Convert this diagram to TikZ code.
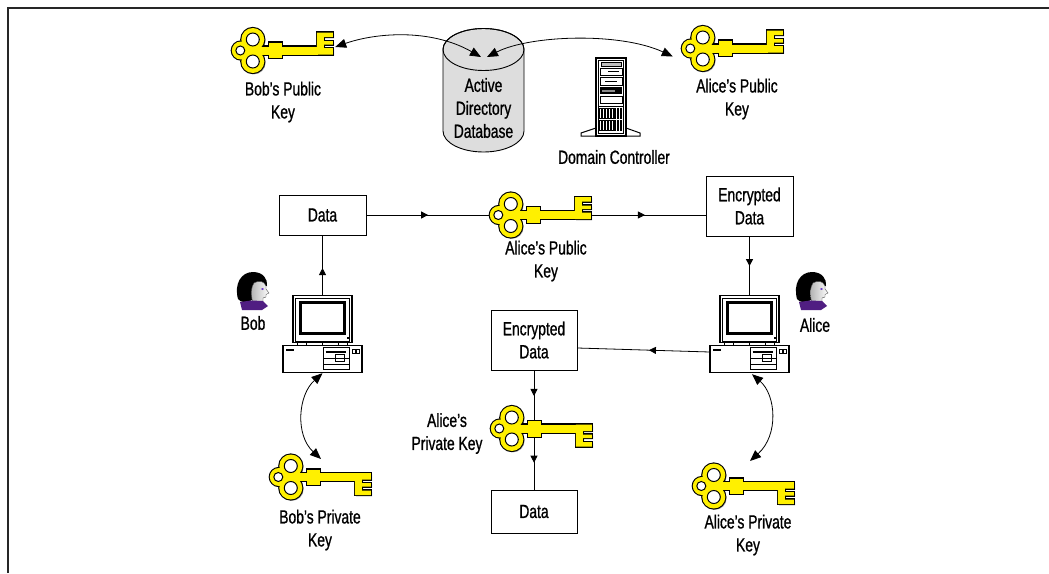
\documentclass[tikz,border=0pt]{standalone}
\usepackage{fontspec}
\setmainfont{Liberation Sans}[FakeStretch=0.73, FakeBold=0.9]
\usetikzlibrary{arrows.meta,decorations.markings}

\definecolor{keyyellow}{RGB}{255,240,0}
\definecolor{dbgray}{RGB}{221,221,221}
\definecolor{collarpurple}{RGB}{80,30,130}
\definecolor{eyeviolet}{RGB}{110,60,200}

% one pass over the solid parts of a key (bow, collar, shaft, bit)
\newcommand\keypass[1]{%
  \path[#1] (21,-11) circle[radius=11.5];
  \path[#1] (21,11) circle[radius=11.5];
  \path[#1] (9,0) circle[radius=9];
  \path[#1] (17,0) circle[radius=8];
  \path[#1] (37,-8) rectangle (50,7.5);
  \path[#1] (22,-4) rectangle (86,4);
  \path[#1] (85,4) -- (85,-18) -- (101,-18) -- (101,-13.5) -- (92,-13.5) -- (92,-9.5)
    -- (101,-9.5) -- (101,-6) -- (92,-6) -- (92,-2.5) -- (101,-2.5) -- (101,4) -- cycle;
}
% shadow, outline, yellow body, then the three holes of the bow
\newcommand\keydraw[1]{%
  \keypass{fill=black!35, shift={(1.3,#1)}}%
  \keypass{draw=black, line width=2.2pt}%
  \keypass{fill=keyyellow}%
  \filldraw[fill=white, draw=black, line width=1pt]
    (21,-11) circle[radius=6.5] (21,11) circle[radius=6.5] (8.5,0) circle[radius=4.5];
}

\tikzset{
  yellowkeyup/.pic={\keydraw{1.3}},
  yellowkeydown/.pic={\begin{scope}[yscale=-1]\keydraw{-1.3}\end{scope}},
  pcunit/.pic={
    % monitor
    \draw[fill=white, line width=1.2pt] (-29.5,0) rectangle (29.5,47);
    \draw[line width=0.5pt] (-27,2) rectangle (27,45);
    \draw[line width=3pt] (-22,6.5) rectangle (22,37.5);
    \fill (24,41.5) rectangle (26.5,43.5);
    \draw[fill=white, line width=0.8pt] (-25,47) rectangle (25,50);
    \draw[line width=0.6pt] (-16,47) -- (-16,50) (0,47) -- (0,50) (16,47) -- (16,50);
    % system unit
    \draw[fill=white, line width=1.2pt] (-39.5,50) rectangle (39.5,77);
    \fill (-36.5,53) rectangle (-28.5,55.5);
    \draw[line width=0.8pt] (0.5,52) rectangle (26.5,74);
    \draw[line width=1.6pt] (3,56) -- (23,56);
    \draw[line width=0.6pt] (0.5,62) -- (26.5,62) (0.5,68) -- (26.5,68);
    \draw[line width=0.6pt] (13,58.5) rectangle (22,65.5);
    \draw[line width=0.6pt] (29.5,53) rectangle (32.5,57) (33.5,53) rectangle (36.5,57);
  },
  serverunit/.pic={
    \draw[fill=white, line width=1pt] (-15,70) -- (-30,75) -- (-30,78) -- (29,78) -- (29,75) -- (15,70) -- cycle;
    \draw[fill=white, line width=1.2pt] (-15,0) rectangle (15,78);
    \draw[line width=0.5pt] (-12.5,2.5) rectangle (12.5,75.5);
    \draw[line width=0.5pt, fill=black!25] (-10,4) rectangle (10,8);
    \draw[line width=0.6pt] (-11,10) rectangle (11,17.5);
    \draw[line width=1.4pt] (-3,13.7) -- (8,13.7);
    \draw[line width=0.6pt] (-11,19.5) rectangle (11,27);
    \draw[line width=1.4pt] (-6,23.2) -- (6,23.2);
    \fill[black] (-11,29) rectangle (11,36);
    \fill[black!45] (-9,31.5) rectangle (4,33.5);
    \draw[line width=0.6pt] (-11,38) rectangle (11,45);
    \draw[line width=0.6pt] (-12.5,48) -- (12.5,48);
    \foreach \i in {0,...,7} {
      \draw[line width=0.5pt] (-11.5+2.9*\i,50.5) rectangle (-9.8+2.9*\i,60.5)
                              (-11.5+2.9*\i,62.5) rectangle (-9.8+2.9*\i,72.5);
    }
  },
  headicon/.pic={
    \fill[black] (-15,9) .. controls (-19,-6) and (-12,-18) .. (0,-18)
      .. controls (10,-18) and (15,-11) .. (14,-4) -- (12,-4) -- (2,-6) -- (-1,10)
      .. controls (-6,13) and (-12,13) .. cycle;
    \shadedraw[left color=black!30, right color=white, draw=black!70, line width=0.4pt]
      (1,-7) .. controls (6,-10) and (11,-9) .. (13,-4) -- (13,-1) -- (16,3) -- (13,4.5)
      -- (13,7) -- (10,8) -- (10,12) -- (0,12) -- (-1,9) .. controls (-2,4) and (-2,-3) .. cycle;
    \fill[eyeviolet] (9.5,-1) ellipse[x radius=1.6, y radius=1];
    \fill[collarpurple] (-13,12) -- (-2,10.5) -- (10,11) -- (15,16) -- (9,20) -- (-11,20) -- cycle;
  },
}

\begin{document}
\begin{tikzpicture}[x=1pt, y=-1pt,
  lbl/.style={font=\fontsize{19}{23}\selectfont, align=center, inner sep=0pt},
  textbox/.style={lbl, draw=black, line width=0.9pt, fill=white, minimum width=87pt},
  keyspot/.style={inner sep=0pt, minimum width=101pt, minimum height=45pt},
  pcspot/.style={inner sep=0pt, minimum width=79pt, minimum height=77pt},
  link/.style={draw=black, line width=0.8pt},
  twoway/.style={link, {Triangle[length=11pt,width=9pt]}-{Triangle[length=11pt,width=9pt]}},
  midarrow/.style={postaction={decorate}, decoration={markings,
    mark=at position #1 with {\arrow{Triangle[length=7pt,width=7pt]}}}},
]
\useasboundingbox (0,0) rectangle (1049,573);

% open frame: top and left edges
\draw[line width=2pt, black!85] (7.8,573) -- (7.8,7.8) -- (1049,7.8);

% directory database cylinder
\path[fill=dbgray, draw=black, line width=0.9pt]
  (443,49.5) -- (443,131) arc[start angle=180, end angle=0, x radius=40.5, y radius=21]
  -- (524,49.5) arc[start angle=0, end angle=-180, x radius=40.5, y radius=21] -- cycle;
\draw[line width=0.9pt] (483.5,49.5) ellipse[x radius=40.5, y radius=21];
\node[lbl] (db) at (483.5,108) {Active\\Directory\\Database};
\coordinate (dbL) at (481,57);
\coordinate (dbR) at (487,57);

% domain controller
\pic at (611,58) {serverunit};
\node[lbl] (ldc) at (614,157) {Domain Controller};

% key anchors
\node[keyspot] (bobpub) at (282.5,50.5) {};
\node[keyspot] (alicepub) at (732.5,48.5) {};
\node[keyspot] (alicepubmid) at (540.5,215) {};
\node[keyspot] (aliceprivmid) at (541.5,428.5) {};
\node[keyspot] (bobpriv) at (320.5,477) {};
\node[keyspot] (alicepriv) at (743.5,486) {};

% computers
\node[pcspot] (bobpc) at (322.5,334.5) {};
\node[pcspot] (alicepc) at (749.5,334.5) {};

% data boxes
\node[textbox, minimum height=40pt] (bobdata) at (322.5,215) {Data};
\node[textbox, minimum height=60pt] (enc1) at (749.5,206) {Encrypted\\Data};
\node[textbox, minimum width=86pt, minimum height=60pt] (enc2) at (534,340) {Encrypted\\Data};
\node[textbox, minimum width=86pt, minimum height=43pt] (botdata) at (534,511.5) {Data};

\coordinate (alicepcport) at ([shift={(0,17.5)}]alicepc.west);
\coordinate (enc2port) at ([shift={(0,8)}]enc2.east);

% publishing the public keys
\draw[twoway] ([shift={(2,-3.5)}]bobpub.east) .. controls (375,33) and (430,28) .. (dbL);
\draw[twoway] (dbR) .. controls (530,35) and (620,32) .. ([shift={(-9,8)}]alicepub.west);

% encryption and decryption flow
\draw[link, midarrow=0.46] (bobpc.north) -- (bobdata.south);
\draw[link, midarrow=0.5] (bobdata.east) -- (bobdata.east -| alicepubmid.west);
\draw[link, midarrow=0.47] (alicepubmid.east) -- (alicepubmid.east -| enc1.west);
\draw[link, midarrow=0.5] (enc1.south) -- (alicepc.north);
\draw[link, midarrow=0.46] (alicepcport) -- (enc2port);
\draw[link, midarrow=0.44] (enc2.south) -- (enc2.south |- aliceprivmid.center);
\draw[link, midarrow=0.56] (enc2.south |- aliceprivmid.center) -- (botdata.north);

% private keys held by each computer
\draw[twoway] (bobpc.south) .. controls (298,395) and (295,435) .. ([shift={(0.5,-18)}]bobpriv.center);
\draw[twoway] ([shift={(2.5,1)}]alicepc.south) .. controls (776,395) and (779,435) .. ([shift={(6.5,-25)}]alicepriv.center);

% keys
\pic at (bobpub.west) {yellowkeyup};
\pic at (alicepub.west) {yellowkeyup};
\pic at (alicepubmid.west) {yellowkeyup};
\pic at (aliceprivmid.west) {yellowkeydown};
\pic at (bobpriv.west) {yellowkeydown};
\pic at (alicepriv.west) {yellowkeydown};

% computers and users
\pic at (bobpc.north) {pcunit};
\pic at (alicepc.north) {pcunit};
\pic at (253,290) {headicon};
\pic at (812,290) {headicon};

% labels
\node[lbl] (lbobpub) at (283,102) {Bob’s Public\\Key};
\node[lbl] (lalicepub) at (737,99) {Alice’s Public\\Key};
\node[lbl] (lalicepubmid) at (546,261) {Alice’s Public\\Key};
\node[lbl] (lbob) at (253,323) {Bob};
\node[lbl] (lalice) at (815,325) {Alice};
\node[lbl] (laliceprivmid) at (447,433.5) {Alice’s\\Private Key};
\node[lbl] (lbobpriv) at (320,530) {Bob’s Private\\Key};
\node[lbl] (lalicepriv) at (748,535) {Alice’s Private\\Key};
\end{tikzpicture}
\end{document}
